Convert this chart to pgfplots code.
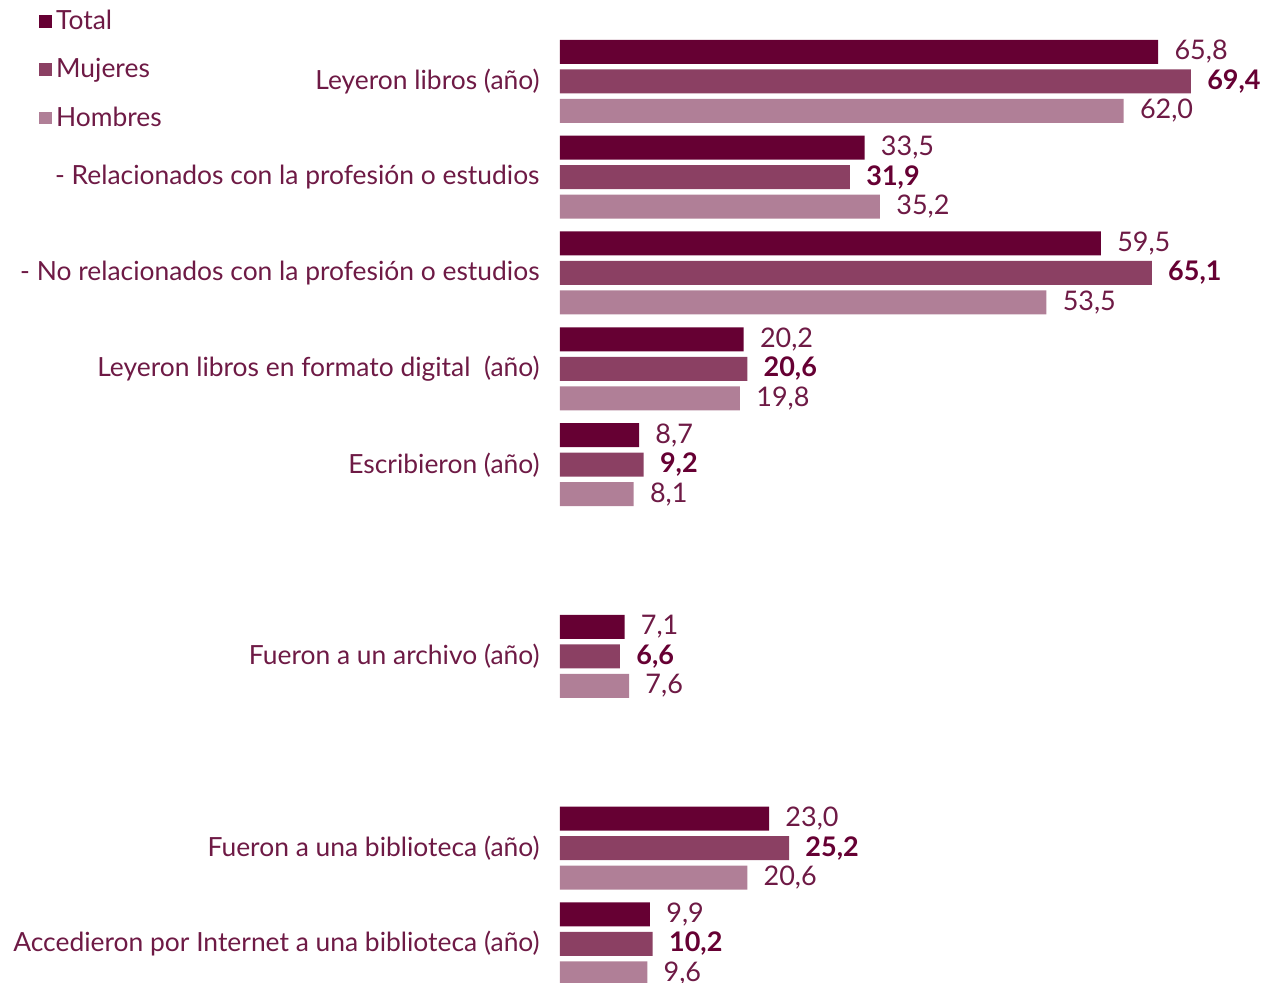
\documentclass[border=0pt]{standalone}
\usepackage{fontspec}
\setmainfont{Lato}
\usepackage{pgfplots}
\pgfplotsset{compat=1.18}
\definecolor{ctotal}{HTML}{660033}
\definecolor{cmuj}{HTML}{8B4063}
\definecolor{chom}{HTML}{B07F97}
\definecolor{ctext}{HTML}{6E1A45}
\newcommand{\lblfont}{\fontsize{13.2}{15}\selectfont}
\newcommand{\valfont}{\fontsize{13.5}{15}\selectfont}

\begin{document}
\begin{tikzpicture}
\begin{axis}[
    xbar, scale only axis, width=350pt, height=471.65pt,
    xmin=0, xmax=77, ymin=-0.434, ymax=9.407, y dir=reverse,
    axis lines=left, axis line style={draw=none}, clip=false,
    xtick=\empty,
    bar width=12pt,
    ytick={0,1,2,3,4,6,8,9},
    yticklabels={Leyeron libros (año),
        - Relacionados con la profesión o estudios,
        - No relacionados con la profesión o estudios,
        Leyeron libros en formato digital\ \ (año),
        Escribieron (año),
        Fueron a un archivo (año),
        Fueron a una biblioteca (año),
        Accedieron por Internet a una biblioteca (año)},
    major tick length=0pt, tick style={draw=none},
    yticklabel style={font=\lblfont, text=ctext, anchor=east, inner sep=0pt, xshift=-10pt},
    nodes near coords={\pgfmathprintnumber[fixed, fixed zerofill, precision=1, use comma, assume math mode=true]{\pgfplotspointmeta}},
    every node near coord/.append style={font=\valfont, text=ctext, anchor=west, inner sep=0pt, xshift=8pt},
    legend image code/.code={\fill[#1] (0pt,-3.2pt) rectangle (6.4pt,3.2pt);},
    legend style={at={(rel axis cs:0,1)}, anchor=north west, xshift=-260.5pt, yshift=16pt,
        draw=none, fill=none, inner sep=0pt, row sep=11pt, column sep=1pt,
        font=\lblfont, text=ctext,
        nodes={inner sep=1pt}},
    legend cell align=left,
]
\addplot[fill=ctotal, draw=none, bar shift=14.75pt] coordinates {
    (65.8,0) (33.5,1) (59.5,2) (20.2,3) (8.7,4) (7.1,6) (23.0,8) (9.9,9)};
\addlegendentry{Total}
\addplot[fill=cmuj, draw=none, bar shift=0pt,
    every node near coord/.append style={font=\valfont\bfseries, text=ctotal}] coordinates {
    (69.4,0) (31.9,1) (65.1,2) (20.6,3) (9.2,4) (6.6,6) (25.2,8) (10.2,9)};
\addlegendentry{Mujeres}
\addplot[fill=chom, draw=none, bar shift=-14.75pt] coordinates {
    (62.0,0) (35.2,1) (53.5,2) (19.8,3) (8.1,4) (7.6,6) (20.6,8) (9.6,9)};
\addlegendentry{Hombres}
\end{axis}
\pgfresetboundingbox
\path[use as bounding box] (current axis.south west) ++(-280pt,0pt) rectangle ++(633pt,491.5pt);
\end{tikzpicture}
\end{document}
